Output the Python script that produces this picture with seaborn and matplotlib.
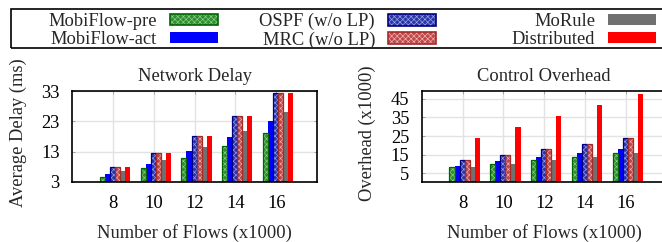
import numpy as np
import pandas as pd
import matplotlib
matplotlib.use("Agg")
import matplotlib.pyplot as plt
from matplotlib.patches import Patch, Rectangle
from matplotlib.legend_handler import HandlerTuple
import seaborn as sns

# data
flows = ["8", "10", "12", "14", "16"]
methods = ["MobiFlow-pre", "MobiFlow-act", "OSPF (w/o LP)", "MRC (w/o LP)", "MoRule", "Distributed"]

delay_pre = [4.8, 7.6, 10.9, 14.8, 19.2]
delay_act = [5.7, 9.0, 13.1, 17.8, 23.2]
delay_ospf = [7.9, 12.6, 18.1, 24.7, 32.2]
delay_mrc = [7.9, 12.6, 18.1, 24.7, 32.2]
delay_morule = [6.5, 10.1, 14.6, 19.8, 26.0]
delay_dist = [7.9, 12.6, 18.1, 24.7, 32.2]

ovh_pre = [8.3, 10.1, 12.2, 14.0, 16.0]
ovh_act = [9.1, 11.5, 13.7, 16.0, 18.2]
ovh_ospf = [12.1, 14.9, 18.0, 21.0, 24.1]
ovh_mrc = [12.1, 14.9, 18.0, 21.0, 24.1]
ovh_morule = [8.3, 10.1, 12.2, 14.0, 16.0]
ovh_dist = [24.0, 29.7, 35.8, 41.8, 47.5]

delay_ticks = [3, 13, 23, 33]
ovh_ticks = [5, 15, 25, 35, 45]

# face, hatch colour, outline, hatch
styles = {
    "MobiFlow-pre": ("#2f8f2f", "#8fd08f", "#006400", "xxxxxx"),
    "MobiFlow-act": ("#0000ff", "#0000ff", None, None),
    "OSPF (w/o LP)": ("#2a36a8", "#a0a8ea", "#000080", "xxxxxx"),
    "MRC (w/o LP)": ("#c04848", "#f0b8b8", "#a52a2a", "xxxxxx"),
    "MoRule": ("#707070", "#707070", None, None),
    "Distributed": ("#ff0000", "#ff0000", None, None),
}


def to_long(cols):
    rows = []
    for m, vals in zip(methods, cols):
        for f, v in zip(flows, vals):
            rows.append((f, m, v))
    return pd.DataFrame(rows, columns=["flows", "method", "value"])


df_delay = to_long([delay_pre, delay_act, delay_ospf, delay_mrc, delay_morule, delay_dist])
df_ovh = to_long([ovh_pre, ovh_act, ovh_ospf, ovh_mrc, ovh_morule, ovh_dist])

sns.set_theme(style="white")
plt.rcParams["font.family"] = ["Liberation Serif", "DejaVu Serif"]
plt.rcParams["hatch.linewidth"] = 0.45
fs = 13.3

W, H = 662, 242
fig = plt.figure(figsize=(W / 100, H / 100), dpi=100)
ax1 = fig.add_axes([72 / W, 60 / H, 245 / W, 91 / H])
ax2 = fig.add_axes([421.7 / W, 60 / H, 245 / W, 91 / H])


def draw(ax, df, title, ylabel, ylim, yticks):
    sns.barplot(data=df, x="flows", y="value", hue="method", order=flows,
                hue_order=methods, width=0.74, ax=ax, legend=False,
                saturation=1, errorbar=None)
    for m, cont in zip(methods, ax.containers):
        face, hcol, edge, hatch = styles[m]
        for p in cont.patches:
            p.set_x(p.get_x() + 0.05)
            p.set_facecolor(face)
            p.set_edgecolor(hcol)
            p.set_linewidth(0)
            if hatch:
                p.set_hatch(hatch)
            if edge:
                ax.add_patch(Rectangle((p.get_x(), p.get_y()), p.get_width(), p.get_height(),
                                       fill=False, edgecolor=edge, linewidth=0.9, zorder=p.get_zorder() + 0.1))
    ax.set_xlim(-1, 5)
    ax.set_ylim(*ylim)
    ax.set_yticks(yticks)
    ax.grid(True, color="#e2e2e2", linewidth=1)
    ax.set_axisbelow(True)
    for s in ax.spines.values():
        s.set_color("black")
        s.set_linewidth(1.2)
    ax.tick_params(direction="in", length=2, width=0.6, colors="#999999", labelcolor="black",
                   labelsize=fs, top=True, right=True, left=True, bottom=True, pad=9)
    ax.set_title(title, fontsize=fs, pad=7)
    ax.set_xlabel("Number of Flows (x1000)", fontsize=fs)
    ax.set_ylabel(ylabel, fontsize=fs)
    ax.xaxis.set_label_coords(0.5, -0.46)
    ax.yaxis.set_label_coords(-0.185, 0.54)


draw(ax1, df_delay, "Network Delay", "Average Delay (ms)", (3, 33), delay_ticks)
draw(ax2, df_ovh, "Control Overhead", "Overhead (x1000)", (0.4, 49.1), ovh_ticks)

# legend: three right-aligned columns inside a box that runs off the right edge
handles = {}
for m in methods:
    face, hcol, edge, hatch = styles[m]
    fill = Patch(facecolor=face, edgecolor=hcol, linewidth=0, hatch=hatch)
    if edge:
        handles[m] = (fill, Patch(fill=False, edgecolor=edge, linewidth=1.2))
    else:
        handles[m] = (fill,)

col_right = [218, 436, 656]
for i, xr in enumerate(col_right):
    labs = methods[2 * i:2 * i + 2]
    fig.legend([handles[l] for l in labs], labs, loc="upper right",
               bbox_to_anchor=(xr / W, 1 - 13 / H), frameon=False, markerfirst=False,
               borderpad=0, borderaxespad=0, handlelength=2.6, handleheight=0.6,
               handletextpad=0.7, labelspacing=0.06, fontsize=fs,
               handler_map={tuple: HandlerTuple(ndivide=1)})

fig.add_artist(Rectangle((11 / W, 1 - 48 / H), 1.2, 39 / H, transform=fig.transFigure,
                         fill=False, edgecolor="black", linewidth=1.2, clip_on=False))

fig.savefig("out.png", dpi=100)
